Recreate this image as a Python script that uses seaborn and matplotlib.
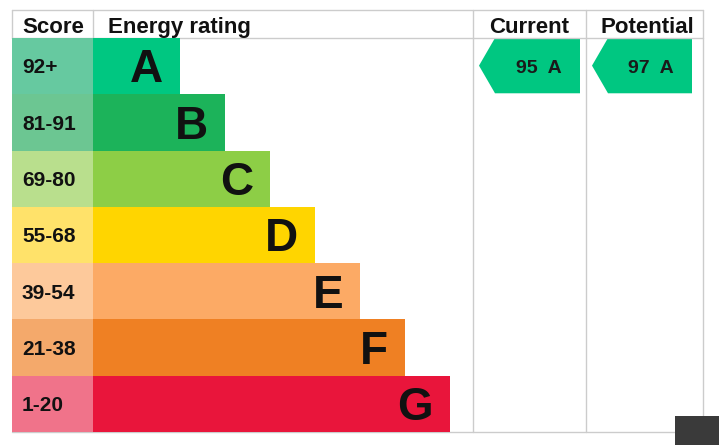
import matplotlib
matplotlib.use("Agg")
import seaborn as sns
from matplotlib import pyplot as plt
from matplotlib.patches import Polygon, Rectangle

ratings = ["A", "B", "C", "D", "E", "F", "G"]
score_bands = ["92+", "81-91", "69-80", "55-68", "39-54", "21-38", "1-20"]
bar_ends = [180, 225, 270, 315, 360, 405, 450]
bar_colors = ["#00c781", "#1cb35a", "#8dce46", "#ffd500", "#fcaa65", "#ef8023", "#e9153b"]
band_colors = ["#66c9a0", "#6cc692", "#b9df8d", "#ffe26a", "#fdc99b", "#f4a96b", "#f0738a"]
current_score, current_rating = 95, "A"
potential_score, potential_rating = 97, "A"

sns.set_theme(style="white")
plt.rcParams["font.family"] = ["Liberation Sans", "DejaVu Sans"]

W, H = 719, 445
fig = plt.figure(figsize=(W / 100, H / 100), dpi=100)
bg = fig.add_axes([0, 0, 1, 1])
bg.set_xlim(0, W)
bg.set_ylim(H, 0)
bg.axis("off")

# table frame
left, right, top, head, bottom = 12, 703, 10, 38, 432
col_score, col_cur, col_pot = 93, 473, 586
row_h = (bottom - head) / len(ratings)
grid = "#cccccc"
for y in [top, head, bottom]:
    bg.plot([left, right], [y, y], color=grid, lw=1)
for x in [left, col_score]:
    bg.plot([x, x], [top, head], color=grid, lw=1)
for x in [col_cur, col_pot, right]:
    bg.plot([x, x], [top, bottom], color=grid, lw=1)

hdr = dict(fontsize=16, fontweight="bold", color="#111111", va="baseline")
bg.text(22, 33, "Score", ha="left", **hdr)
bg.text(108, 33, "Energy rating", ha="left", **hdr)
bg.text((col_cur + col_pot) / 2, 33, "Current", ha="center", **hdr)
bg.text((col_pot + right) / 2 + 3, 33, "Potential", ha="center", **hdr)

# rating bars
ax = fig.add_axes([left / W, (H - bottom) / H, (col_cur - left) / W, (bottom - head) / H])
sns.barplot(x=bar_ends, y=ratings, hue=ratings, palette=bar_colors, width=1, saturation=1,
            orient="h", legend=False, linewidth=0, ax=ax)
sns.barplot(x=[col_score] * len(ratings), y=ratings, hue=ratings, palette=band_colors,
            width=1, saturation=1, orient="h", legend=False, linewidth=0, ax=ax)
ax.set_xlim(left, col_cur)
ax.set_ylim(len(ratings) - 0.5, -0.5)
ax.set_facecolor("none")
ax.axis("off")

for i, (r, s, end) in enumerate(zip(ratings, score_bands, bar_ends)):
    ax.text(end - 17, i + 0.29, r, ha="right", va="baseline",
            fontsize=33, fontweight="bold", color="#111111")
    ax.text(22, i + 0.13, s, ha="left", va="baseline",
            fontsize=15, fontweight="bold", color="#111111")


def arrow(x0, x1, score, rating):
    i = ratings.index(rating)
    y0 = head + i * row_h
    y1 = y0 + row_h - 1
    ym = (y0 + y1) / 2
    pts = [(x0, ym), (x0 + 16, y0), (x1, y0), (x1, y1), (x0 + 16, y1)]
    bg.add_patch(Polygon(pts, closed=True, color=bar_colors[i], lw=0))
    bg.text((x0 + 16 + x1) / 2 + 1, ym + 7, f"{score}  {rating}", ha="center",
            va="baseline", fontsize=14, fontweight="bold", color="#1a1a1a")


arrow(479, 580, current_score, current_rating)
arrow(592, 692, potential_score, potential_rating)

bg.add_patch(Rectangle((675, 416), 44, 29, color="#3a3a3a", lw=0, zorder=5))

fig.savefig("out.png", dpi=100)
